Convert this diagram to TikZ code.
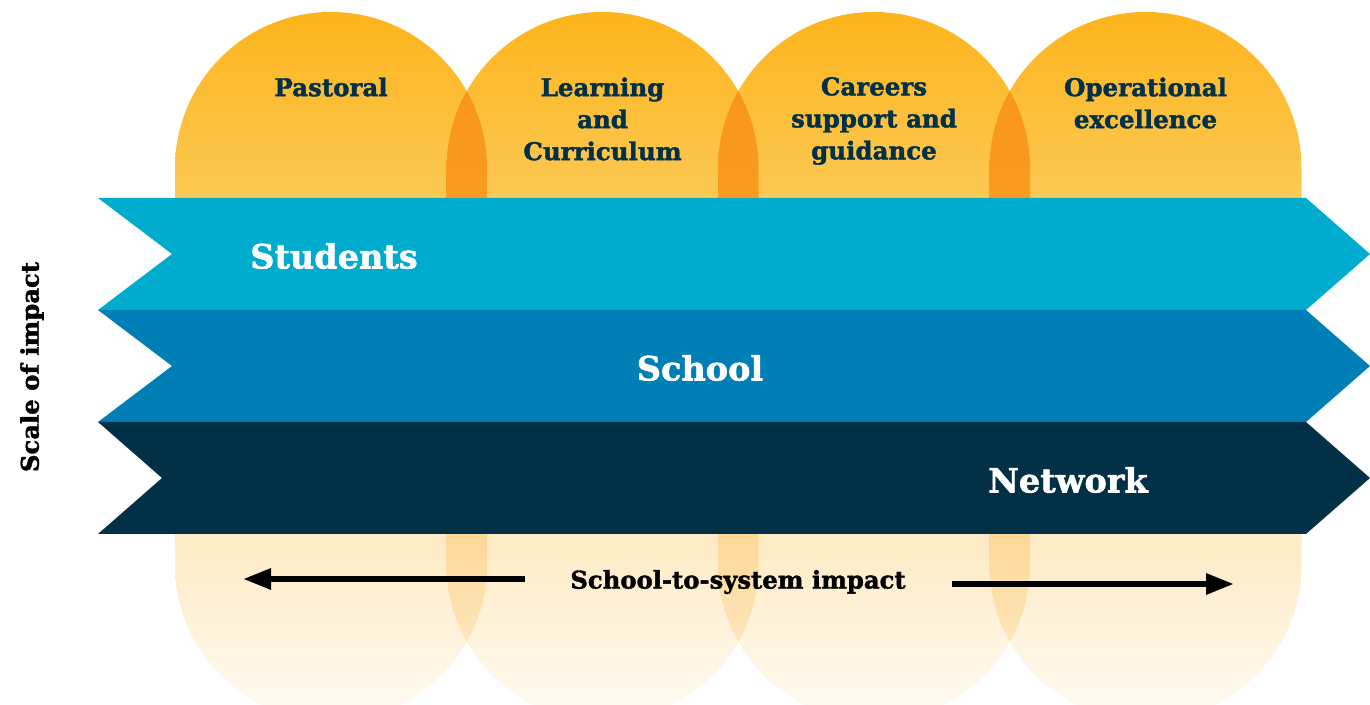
\documentclass[tikz,border=0pt]{standalone}
\usepackage{fontspec}
\setmainfont{DejaVu Serif}[BoldFeatures={FakeBold=1.6}]
\usetikzlibrary{arrows.meta}

\definecolor{pillTop}{RGB}{253,180,28}
\definecolor{pillLow}{RGB}{252,201,84}
\definecolor{lensTop}{RGB}{248,146,22}
\definecolor{lensLow}{RGB}{249,156,32}
\definecolor{fadeTop}{RGB}{254,234,195}
\definecolor{fadeLow}{RGB}{255,251,244}
\definecolor{fadeLensTop}{RGB}{253,216,150}
\definecolor{fadeLensLow}{RGB}{254,240,214}
\definecolor{bandA}{RGB}{0,172,205}
\definecolor{bandB}{RGB}{0,126,182}
\definecolor{bandC}{RGB}{2,49,71}
\definecolor{navy}{RGB}{2,49,71}

% upper and lower halves of a column pill centred at x = #1
\newcommand\pillupper[1]{(#1-156,504) -- (#1-156,536) arc[start angle=180,end angle=0,radius=156pt] -- (#1+156,504) -- cycle}
\newcommand\pilllower[1]{(#1-156,172) -- (#1-156,139) arc[start angle=180,end angle=360,radius=156pt] -- (#1+156,172) -- cycle}

\tikzset{
  pilltitle/.style={align=center,text=navy,inner sep=0pt,
    font=\bfseries\fontsize{24.5}{32}\selectfont},
  bandlabel/.style={text=white,inner sep=0pt,font=\bfseries\fontsize{33.5}{38}\selectfont},
  axislabel/.style={text=black,inner sep=0pt,font=\bfseries\fontsize{24.3}{28}\selectfont},
  impact/.style={line width=6pt,-{Triangle[length=28pt,width=20pt]}},
}

\begin{document}
\begin{tikzpicture}[x=1pt,y=1pt]
\useasboundingbox (0,0) rectangle (1370,704);
\clip (0,0) rectangle (1370,704);

% column pills, upper parts
\foreach \c in {331,602.5,874,1145.5}
  \shade[top color=pillTop,bottom color=pillLow] \pillupper{\c};
% darker overlaps between neighbouring columns
\foreach \a/\b in {331/602.5,602.5/874,874/1145.5}{
  \begin{scope}
    \clip \pillupper{\a};
    \shade[top color=lensTop,bottom color=lensLow] \pillupper{\b};
  \end{scope}
}

% column pills, faded lower parts
\foreach \c in {331,602.5,874,1145.5}
  \shade[top color=fadeTop,bottom color=fadeLow] \pilllower{\c};
\foreach \a/\b in {331/602.5,602.5/874,874/1145.5}{
  \begin{scope}
    \clip \pilllower{\a};
    \shade[top color=fadeLensTop,bottom color=fadeLensLow] \pilllower{\b};
  \end{scope}
}

% chevron bands
\fill[bandA] (98,506) -- (1306,506) -- (1370,450) -- (1306,394) -- (98,394) -- (172,450) -- cycle;
\fill[bandB] (98,394) -- (1306,394) -- (1370,338) -- (1306,282) -- (98,282) -- (172,338) -- cycle;
\fill[bandC] (98,282) -- (1306,282) -- (1370,226) -- (1306,170) -- (98,170) -- (162,226) -- cycle;

% column titles
\node[pilltitle] (pastoral) at (331,617) {Pastoral};
\node[pilltitle] (learning) at (602.5,585) {Learning\\and\\Curriculum};
\node[pilltitle] (careers) at (874,583) {Careers\\support and\\guidance};
\node[pilltitle] (operational) at (1145.5,601) {Operational\\excellence};

% band labels
\node[bandlabel] (students) at (334,448) {Students};
\node[bandlabel] (school) at (700,336) {School};
\node[bandlabel] (network) at (1068,224) {Network};

% axes
\node[axislabel,rotate=90] (scale) at (32,337) {Scale of impact};
\node[axislabel] (system) at (738,122) {School-to-system impact};
\coordinate (leftstart) at (525,125);
\coordinate (leftend) at (243,125);
\coordinate (rightstart) at (952,120);
\coordinate (rightend) at (1234,120);
\draw[impact] (leftstart) -- (leftend);
\draw[impact] (rightstart) -- (rightend);
\end{tikzpicture}
\end{document}
